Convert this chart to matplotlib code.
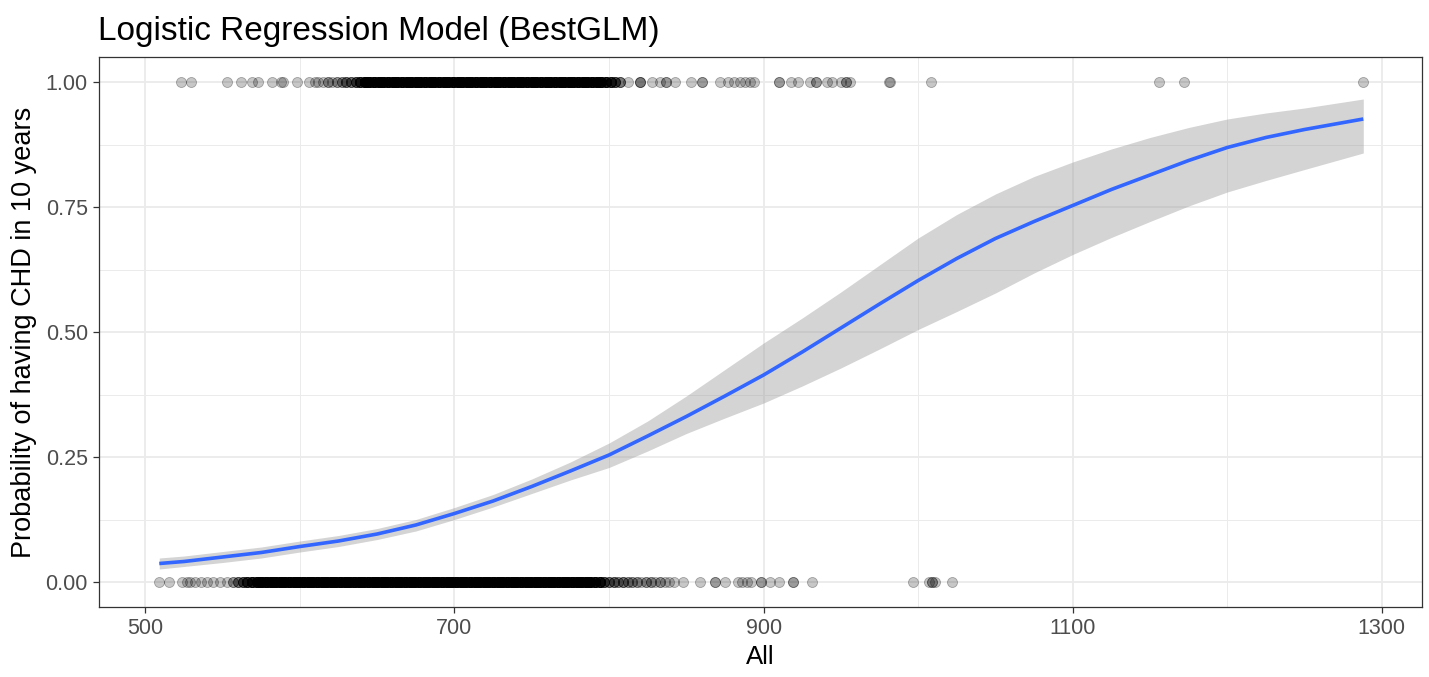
import numpy as np
import matplotlib
matplotlib.use("Agg")
import matplotlib.pyplot as plt

# values
# points with outcome 1 (top row), sparse part
top_x = [523, 529.5, 553, 562, 569, 573, 582, 588, 589, 598, 606, 610,
         812, 820, 820, 820, 828, 833, 837, 837, 843, 853, 860, 860,
         872, 877, 881, 885, 888, 891, 894, 910, 910, 918, 922, 930,
         934, 934, 941, 944, 950, 953, 953, 956, 981, 982, 1008,
         1156, 1172, 1288]
# dense part of the top row: position and how many points sit there
top_dense_x = [612, 615, 618, 621, 624, 627, 630, 633, 636, 639,
               642, 645, 648, 651, 654, 657, 660, 663, 666, 669,
               672, 675, 678, 681, 684, 687, 690, 693, 696, 699,
               702, 705, 708, 711, 714, 717, 720, 723, 726, 729,
               732, 735, 738, 741, 744, 747, 750, 753, 756, 759,
               762, 765, 768, 771, 774, 777, 780, 783, 786, 789,
               792, 795, 798, 801, 804, 807]
top_dense_n = [1, 1, 2, 1, 2, 2, 3, 3, 4, 6,
               12, 12, 12, 12, 12, 12, 12, 12, 12, 12,
               12, 12, 12, 12, 12, 12, 12, 12, 12, 12,
               12, 12, 12, 12, 12, 12, 12, 12, 12, 12,
               12, 12, 12, 12, 12, 12, 12, 12, 12, 12,
               12, 12, 12, 12, 12, 12, 12, 12, 12, 12,
               12, 10, 8, 6, 4, 3]

# points with outcome 0 (bottom row), sparse part
bot_x = [509, 515.4, 523.4, 526.7, 528.8, 532, 536, 539.6, 543.9, 548,
         552.5, 848, 859, 868.6, 868.6, 875, 883.7, 886, 889, 892, 898,
         898, 904, 910, 919, 919, 931, 996.6, 1006.7, 1009, 1009, 1011,
         1022]
bot_dense_x = [557, 560, 563, 566, 569, 572, 575, 578, 581, 584,
               587, 590, 593, 596, 599, 602, 605, 608, 611, 614,
               617, 620, 623, 626, 629, 632, 635, 638, 641, 644,
               647, 650, 653, 656, 659, 662, 665, 668, 671, 674,
               677, 680, 683, 686, 689, 692, 695, 698, 701, 704,
               707, 710, 713, 716, 719, 722, 725, 728, 731, 734,
               737, 740, 743, 746, 749, 752, 755, 758, 761, 764,
               767, 770, 773, 776, 779, 782, 785, 788, 791, 794,
               797, 800, 803, 806, 809, 812, 815, 818, 821, 824,
               827, 830, 833, 836, 839, 842]
bot_dense_n = [2, 3, 4, 6, 8, 10, 14, 14, 14, 14,
               14, 14, 14, 14, 14, 14, 14, 14, 14, 14,
               14, 14, 14, 14, 14, 14, 14, 14, 14, 14,
               14, 14, 14, 14, 14, 14, 14, 14, 14, 14,
               14, 14, 14, 14, 14, 14, 14, 14, 14, 14,
               14, 14, 14, 14, 14, 14, 14, 14, 14, 14,
               14, 14, 14, 14, 14, 14, 14, 14, 14, 14,
               14, 14, 14, 14, 14, 14, 14, 12, 10, 8,
               4, 3, 3, 2, 3, 2, 2, 2, 1, 2,
               2, 1, 2, 1, 1, 1]

# fitted probability and its confidence band
fit_x = [509, 525, 550, 575, 600, 625, 650, 675, 700, 725, 750, 775,
         800, 825, 850, 875, 900, 925, 950, 975, 1000, 1025, 1050, 1075,
         1100, 1125, 1150, 1175, 1200, 1225, 1250, 1288]
fit_y = [0.037, 0.041, 0.050, 0.059, 0.071, 0.082, 0.096, 0.114, 0.137,
         0.162, 0.191, 0.222, 0.254, 0.292, 0.331, 0.372, 0.414, 0.460,
         0.508, 0.556, 0.603, 0.647, 0.687, 0.721, 0.753, 0.785, 0.814,
         0.843, 0.869, 0.889, 0.905, 0.926]
fit_lo = [0.026, 0.031, 0.039, 0.048, 0.060, 0.071, 0.085, 0.102, 0.125,
          0.150, 0.177, 0.204, 0.229, 0.262, 0.297, 0.328, 0.358, 0.392,
          0.428, 0.466, 0.505, 0.541, 0.578, 0.618, 0.655, 0.689, 0.721,
          0.752, 0.780, 0.803, 0.825, 0.858]
fit_hi = [0.048, 0.052, 0.061, 0.070, 0.082, 0.093, 0.107, 0.125, 0.149,
          0.175, 0.206, 0.240, 0.278, 0.322, 0.372, 0.425, 0.478, 0.528,
          0.580, 0.634, 0.688, 0.735, 0.776, 0.811, 0.840, 0.866, 0.889,
          0.909, 0.926, 0.938, 0.948, 0.966]

x_ticks = [500, 700, 900, 1100, 1300]
y_ticks = [0.0, 0.25, 0.5, 0.75, 1.0]
y_labels = ['0.00', '0.25', '0.50', '0.75', '1.00']

plt.rcParams['font.family'] = ['Liberation Sans', 'DejaVu Sans']

W, H = 1429, 677
fig = plt.figure(figsize=(W / 100, H / 100), dpi=100)
ax = fig.add_axes([99 / W, 1 - 607 / H, (1422 - 99) / W, (607 - 57) / H])

# grid (ggplot theme_bw look)
ax.set_xticks([600, 800, 1000, 1200], minor=True)
ax.set_yticks([0.125, 0.375, 0.625, 0.875], minor=True)
ax.grid(True, which='major', color='#EBEBEB', lw=1.3, zorder=0)
ax.grid(True, which='minor', color='#EBEBEB', lw=0.7, zorder=0)
ax.tick_params(which='minor', length=0)

# scatter of the raw outcomes
pts_top = np.concatenate([top_x, np.repeat(top_dense_x, top_dense_n)])
pts_bot = np.concatenate([bot_x, np.repeat(bot_dense_x, bot_dense_n)])
for xs, yv in ((pts_top, 1.0), (pts_bot, 0.0)):
    ax.scatter(xs, np.full(len(xs), yv), s=52, facecolor=(0, 0, 0, 0.22),
               edgecolor=(0, 0, 0, 0.3), linewidths=0.6, zorder=2)

# band + fitted line
ax.fill_between(fit_x, fit_lo, fit_hi, color='#999999', alpha=0.42,
                linewidth=0, zorder=3)
ax.plot(fit_x, fit_y, color='#3366FF', lw=2.6, zorder=4,
        solid_capstyle='butt')

ax.set_xlim(470, 1326)
ax.set_ylim(-0.05, 1.05)
ax.set_xticks(x_ticks)
ax.set_yticks(y_ticks)
ax.set_yticklabels(y_labels)
ax.tick_params(which='major', length=4, width=0.9, color='#333333',
               labelcolor='#4D4D4D', labelsize=15.5, pad=4)
for sp in ax.spines.values():
    sp.set_color('#333333')
    sp.set_linewidth(0.9)

ax.set_xlabel('All', fontsize=18.5, labelpad=4)
ax.set_ylabel('Probability of having CHD in 10 years', fontsize=19.5,
              labelpad=6)
fig.text(98 / W, 1 - 40 / H, 'Logistic Regression Model (BestGLM)',
         fontsize=24, va='baseline', ha='left')

fig.savefig('out.png', dpi=100)
